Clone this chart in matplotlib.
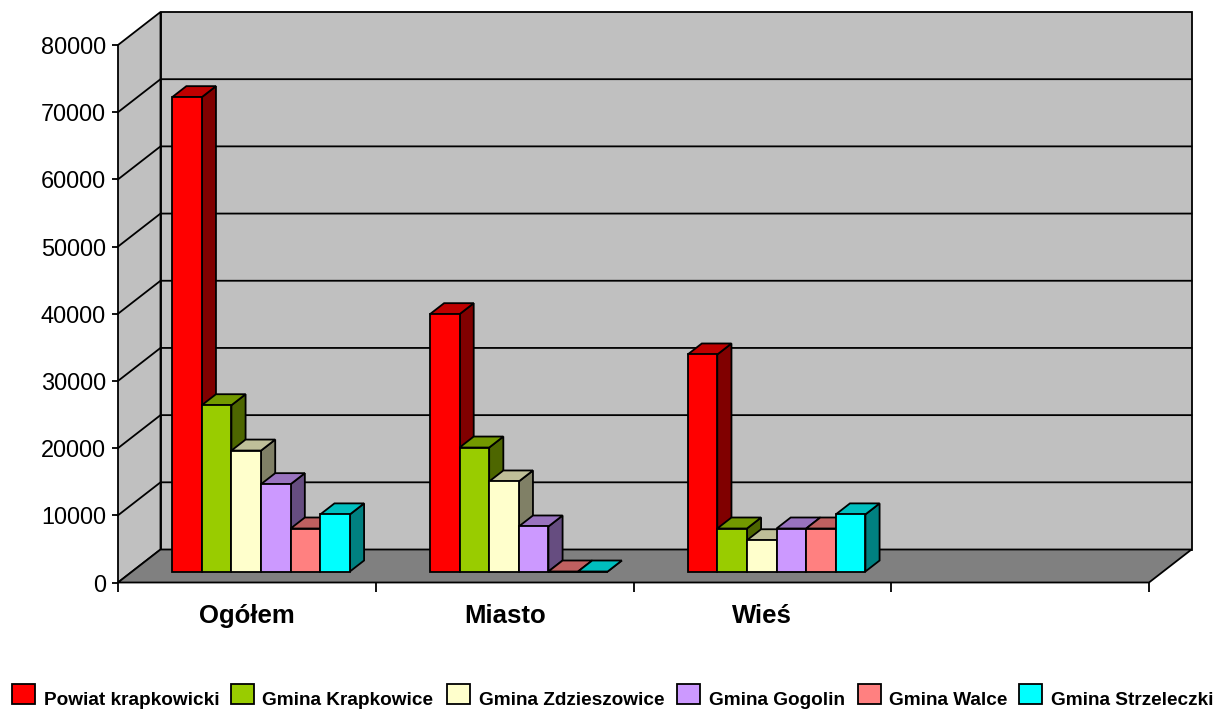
import matplotlib
matplotlib.use("Agg")
import matplotlib.pyplot as plt
from matplotlib.patches import Polygon, Rectangle

plt.rcParams['font.family'] = ['Liberation Sans', 'DejaVu Sans']

categories = ['Ogółem', 'Miasto', 'Wieś', '']
series = ['Powiat krapkowicki', 'Gmina Krapkowice', 'Gmina Zdzieszowice',
          'Gmina Gogolin', 'Gmina Walce', 'Gmina Strzeleczki']
powiat = [70600, 38300, 32300]
krapkowice = [24750, 18450, 6400]
zdzieszowice = [18000, 13400, 4650]
gogolin = [13000, 6700, 6400]
walce = [6400, 0, 6400]
strzeleczki = [8500, 0, 8500]
values = [powiat, krapkowice, zdzieszowice, gogolin, walce, strzeleczki]

colors = ['#FF0000', '#99CC00', '#FFFFCC', '#CC99FF', '#FF8080', '#00FFFF']
tops = ['#BF0000', '#739900', '#BFBF99', '#9973BF', '#BF6060', '#00BFBF']
sides = ['#800000', '#4D6600', '#808066', '#664D80', '#804040', '#008080']

W, H = 1221, 709
fig = plt.figure(figsize=(W / 100, H / 100), dpi=100)
ax = fig.add_axes([118 / W, (H - 582.5) / H, 1031 / W, 537.5 / H])
ax.set_xlim(0, 4)
ax.set_ylim(0, 80000)
for s in ax.spines.values():
    s.set_visible(False)
ax.patch.set_visible(False)

# depth of the box in data units
DX = 42.5 / (1031 / 4)
DY = 33 / 537.5 * 80000
LW = 1.3


def poly(pts, fc, z=2):
    ax.add_patch(Polygon(pts, closed=True, fc=fc, ec='black', lw=LW,
                         clip_on=False, zorder=z, joinstyle='miter'))


# walls and floor
poly([(DX, DY), (4 + DX, DY), (4 + DX, 80000 + DY), (DX, 80000 + DY)], '#C0C0C0', 1)
poly([(0, 0), (DX, DY), (DX, 80000 + DY), (0, 80000)], '#C0C0C0', 1)
poly([(0, 0), (4, 0), (4 + DX, DY), (DX, DY)], '#808080', 1)

for v in range(10000, 80000, 10000):
    ax.plot([0, DX, 4 + DX], [v, v + DY, v + DY], color='black', lw=LW,
            clip_on=False, zorder=1.5)

# bars sit in the middle third of the floor depth
gap = 40 / (1031 / 4)
bar_w = (1 - 2 * gap) / 6
ox, oy = DX / 3, DY / 3
for c in range(3):
    for i, vals in enumerate(values):
        x0 = c + gap + i * bar_w + ox
        x1 = x0 + bar_w
        y0 = oy
        y1 = oy + vals[c]
        poly([(x1, y0), (x1 + ox, y0 + oy), (x1 + ox, y1 + oy), (x1, y1)], sides[i], 3)
        poly([(x0, y1), (x1, y1), (x1 + ox, y1 + oy), (x0 + ox, y1 + oy)], tops[i], 3)
        poly([(x0, y0), (x1, y0), (x1, y1), (x0, y1)], colors[i], 3)

ax.set_yticks(range(0, 90000, 10000))
ax.set_xticks(range(5))
ax.set_xticklabels([])
ax.set_xticks([0.5, 1.5, 2.5, 3.5], minor=True)
ax.set_xticklabels(categories, minor=True, fontsize=18.5, fontweight='bold')
ax.tick_params(axis='y', length=4.3, width=LW, pad=4.5, labelsize=16.9)
ax.tick_params(axis='x', which='major', length=6.5, width=LW)
ax.tick_params(axis='x', which='minor', length=0, pad=15.5)

# legend row
swatch_x = [12, 231, 447, 677, 858, 1019]
label_x = [44, 262, 479, 709, 889, 1051]
for i, name in enumerate(series):
    fig.add_artist(Rectangle((swatch_x[i] / W, 1 - 704 / H), 23 / W, 20 / H,
                             transform=fig.transFigure, fc=colors[i], ec='black', lw=LW))
    fig.text(label_x[i] / W, 1 - 705 / H, name, fontsize=13.65, fontweight='bold',
             ha='left', va='baseline')

fig.savefig('out.png', dpi=100)
